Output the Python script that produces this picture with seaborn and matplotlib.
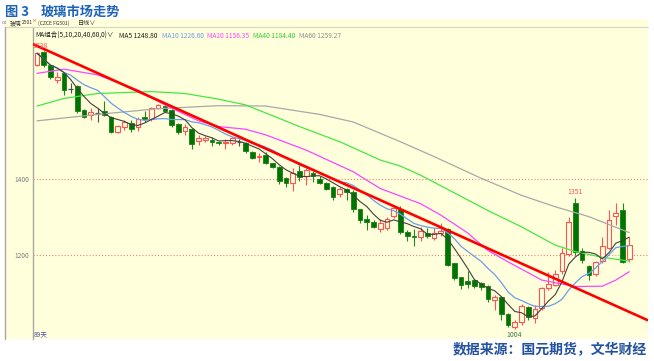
import numpy as np
import pandas as pd
import matplotlib
matplotlib.use("Agg")
import matplotlib.pyplot as plt
import seaborn as sns
from matplotlib.patches import Rectangle
from matplotlib.lines import Line2D

# ---------------- data ----------------
opens = [1700,1735,1700,1660,1678,1638,1645,1582,1568,1574,
         1579,1562,1524,1536,1547,1538,1562,1557,1586,1592,
         1582,1545,1527,1531,1501,1503,1503,1498,1494,1494,
         1497,1494,1472,1457,1463,1441,1431,1402,1390,1421,
         1408,1417,1399,1390,1380,1360,1374,1367,1320,1295,
         1288,1268,1270,1303,1320,1261,1250,1247,1259,1244,
         1257,1268,1178,1141,1131,1134,1127,1118,1082,1089,
         1045,1011,1024,1062,1033,1060,1112,1121,1159,1203,
         1338,1211,1171,1150,1185,1218,1303,1318,1189]
closes = [1731,1700,1668,1669,1634,1638,1580,1564,1577,1574,
          1568,1525,1539,1551,1531,1559,1557,1586,1594,1580,
          1542,1525,1538,1492,1507,1508,1497,1496,1497,1507,
          1497,1474,1456,1461,1443,1432,1395,1390,1417,1404,
          1424,1408,1390,1374,1353,1373,1366,1320,1292,1287,
          1273,1285,1294,1323,1261,1250,1247,1264,1251,1259,
          1264,1174,1140,1121,1123,1118,1117,1083,1089,1045,
          1016,1024,1066,1036,1057,1112,1124,1150,1204,1288,
          1209,1187,1147,1182,1224,1292,1310,1182,1226]
highs = [1735,1738,1703,1682,1682,1653,1648,1584,1587,1587,
         1605,1565,1542,1556,1556,1563,1580,1590,1597,1598,
         1585,1547,1545,1534,1516,1512,1511,1500,1505,1510,
         1506,1497,1475,1468,1470,1443,1433,1404,1428,1437,
         1428,1420,1408,1393,1382,1380,1376,1370,1322,1305,
         1292,1294,1300,1330,1328,1265,1268,1275,1272,1272,
         1285,1272,1180,1143,1159,1137,1130,1120,1095,1092,
         1048,1030,1070,1066,1068,1115,1156,1160,1218,1301,
         1351,1218,1175,1185,1248,1318,1336,1336,1248]
lows = [1697,1695,1662,1653,1621,1626,1575,1561,1555,1550,
        1566,1522,1520,1530,1524,1526,1550,1552,1583,1576,
        1538,1518,1515,1478,1489,1498,1488,1490,1478,1490,
        1488,1468,1453,1445,1440,1429,1388,1378,1369,1394,
        1385,1392,1388,1372,1345,1352,1345,1312,1285,1266,
        1270,1261,1265,1298,1255,1236,1225,1238,1245,1240,
        1250,1172,1135,1110,1112,1112,1108,1077,1055,1030,
        1010,1004,1015,1030,1020,1055,1108,1118,1150,1198,
        1200,1180,1134,1145,1180,1215,1279,1180,1182]

# moving-average lines (candle index, value)
ma20_idx = [0, 4, 9, 15, 19, 24, 27, 31, 34, 40, 47, 51, 57, 60, 64, 67, 70, 75, 80, 84, 86, 88]
ma20_val = [1678, 1689, 1674, 1634, 1595, 1553, 1538, 1531, 1516, 1476, 1419, 1375, 1335, 1305,
            1258, 1212, 1182, 1134, 1117, 1118, 1134, 1156]
ma40_idx = [0, 4, 9, 17, 22, 27, 31, 39, 45, 51, 54, 57, 64, 67, 72, 77, 80, 84, 88]
ma40_val = [1592, 1612, 1625, 1630, 1625, 1610, 1595, 1538, 1498, 1450, 1434, 1410, 1345, 1317,
            1274, 1226, 1209, 1194, 1184]
ma60_idx = [0, 9, 18, 27, 34, 42, 47, 54, 59, 66, 72, 77, 82, 88]
ma60_val = [1553, 1570, 1585, 1593, 1592, 1570, 1550, 1498, 1459, 1402, 1357, 1327, 1301, 1259]

# hand-drawn trend line (index, value)
trend_idx = [-0.6, 90.8]
trend_val = [1755, 1028]

y_ticks = [1200, 1400]
legend_labels = ["MA5 1248.80", "MA10 1226.60", "MA20 1156.35", "MA40 1184.40", "MA60 1259.27"]

title_num = "图 3"
title_txt = "玻璃市场走势"
source_txt = "数据来源：国元期货，文华财经"
header_name = "玻璃"
header_contract = "2501"
header_code = "(CZCE FG501)"
header_period = "日线∨"
ma_group = "MA组合(5,10,20,40,60,0)∨"
days_txt = "89天"

# ---------------- style ----------------
sns.set_theme(style="white")
plt.rcParams["font.family"] = ["Noto Sans CJK SC", "DejaVu Sans"]
FAM = ["Noto Sans CJK SC", "DejaVu Sans"]

BG = "#FFFFDC"
RED = "#FF5454"
GREEN = "#007400"
GWICK = "#1E8A1E"
DOJI = "#505050"
C_MA5 = "#404040"
C_MA10 = "#6D9CE8"
C_MA20 = "#FF44FF"
C_MA40 = "#44E844"
C_MA60 = "#A8A8A8"

W, H = 654, 361
fig = plt.figure(figsize=(W / 100, H / 100), dpi=100)
fig.patch.set_facecolor("white")

def fx(px):
    return px / W

def fy(py):
    return 1 - py / H

# chart window background and frame lines
fig.add_artist(Rectangle((fx(5), fy(339)), fx(648) - fx(5), fy(19) - fy(339),
                         transform=fig.transFigure, facecolor=BG, edgecolor="none", zorder=0))
fig.add_artist(Line2D([fx(5), fx(648)], [fy(27), fy(27)], transform=fig.transFigure,
                      color="#D8D8C0", lw=0.8, zorder=1))
fig.add_artist(Line2D([fx(5.5), fx(5.5)], [fy(27), fy(339)], transform=fig.transFigure,
                      color="#A8A8A0", lw=1.0, zorder=1))

ax = fig.add_axes([fx(33), fy(339), fx(648) - fx(33), fy(27) - fy(339)])
ax.set_facecolor(BG)

n = len(closes)
idx = np.arange(n)
o = np.array(opens, float)
c = np.array(closes, float)
h = np.array(highs, float)
l = np.array(lows, float)
lo_b = np.minimum(o, c)
hi_b = np.maximum(o, c)
up = c > o
dn = c < o
fl = c == o
BW = 0.7

# wicks
for m, col in [(up, RED), (dn, GWICK), (fl, DOJI)]:
    ax.vlines(idx[m], l[m], lo_b[m], color=col, lw=0.8, zorder=2)
    ax.vlines(idx[m], hi_b[m], h[m], color=col, lw=0.8, zorder=2)
# bodies
ax.bar(idx[up], hi_b[up] - lo_b[up], bottom=lo_b[up], width=BW,
       facecolor=BG, edgecolor=RED, linewidth=0.8, zorder=2)
ax.bar(idx[dn], hi_b[dn] - lo_b[dn], bottom=lo_b[dn], width=BW,
       facecolor=GREEN, edgecolor=GREEN, linewidth=0.5, zorder=2)
ax.hlines(c[fl], idx[fl] - BW / 2, idx[fl] + BW / 2, color=DOJI, lw=0.9, zorder=2)

# moving averages
cs = pd.Series(closes, dtype=float)
ma5 = cs.rolling(5, min_periods=1).mean()
ma10 = cs.rolling(10, min_periods=1).mean()
sns.lineplot(x=ma60_idx, y=ma60_val, ax=ax, color=C_MA60, lw=0.9, zorder=3, estimator=None, sort=False)
sns.lineplot(x=ma40_idx, y=ma40_val, ax=ax, color=C_MA40, lw=0.9, zorder=3, estimator=None, sort=False)
sns.lineplot(x=ma20_idx, y=ma20_val, ax=ax, color=C_MA20, lw=0.9, zorder=3, estimator=None, sort=False)
sns.lineplot(x=idx, y=ma10.values, ax=ax, color=C_MA10, lw=0.9, zorder=3, estimator=None, sort=False)
sns.lineplot(x=idx, y=ma5.values, ax=ax, color=C_MA5, lw=0.8, zorder=3, estimator=None, sort=False)

# trend line
ax.plot(trend_idx, trend_val, color="#FF0000", lw=1.9, zorder=5, solid_capstyle="butt")

# horizontal dotted reference lines
for v in y_ticks:
    ax.axhline(v, color="#F08080", lw=0.8, ls=(0, (1, 1.8)), zorder=1)

ax.set_xlim(-4 / 6.73, 611 / 6.73)
ax.set_ylim(979, 1800)
ax.set_yticks(y_ticks)
ax.set_yticklabels([str(v) for v in y_ticks], family=FAM)
ax.set_xticks([])
ax.tick_params(axis="y", length=0, pad=2.5, labelsize=4.8, labelcolor="#808080")
for s in ["top", "right", "bottom"]:
    ax.spines[s].set_visible(False)
ax.spines["left"].set_color("#A8A8A0")
ax.spines["left"].set_linewidth(1.0)
ax.set_xlabel("")
ax.set_ylabel("")

# extreme labels
imax = int(np.argmax(h))
imin = int(np.argmin(l))
ax.annotate(f"{int(h[imax])}", xy=(imax, h[imax]), xytext=(-2.5, 0.3), textcoords="offset points",
            ha="center", va="bottom", fontsize=5.0, color=RED, family=FAM, zorder=6)
iloc = 80  # local high near the right end
ax.annotate(f"{int(h[iloc])}", xy=(iloc, h[iloc]), xytext=(-0.5, 1.0), textcoords="offset points",
            ha="center", va="bottom", fontsize=5.0, color=RED, family=FAM, zorder=6)
ax.annotate(f"{int(l[imin])}", xy=(imin, l[imin]), xytext=(-0.5, -0.8), textcoords="offset points",
            ha="center", va="top", fontsize=5.0, color="#3C7A50", family=FAM, zorder=6)

# legend row
yrow = fy(36)
fig.text(fx(35), yrow, ma_group, fontsize=4.7, color="#202020", va="center", family=FAM)
leg_x = [119, 161.7, 207, 253, 299.3]
leg_c = ["#202020", C_MA10, C_MA20, "#33CC33", "#909090"]
for xx, t, col in zip(leg_x, legend_labels, leg_c):
    fig.text(fx(xx), yrow, t, fontsize=4.8, color=col, va="center", family=FAM)

# header row
fig.text(fx(1.5), fy(23), "oo", fontsize=3.2, color="#707070", va="center", family=FAM)
fig.text(fx(9.5), fy(23), header_name, fontsize=4.2, color="#303030", va="center", family=FAM)
fig.text(fx(21.5), fy(23), header_contract, fontsize=3.6, color="#303030", va="center", family=FAM)
fig.text(fx(33.0), fy(21.3), "M", fontsize=2.6, color=RED, va="center", family=FAM)
fig.text(fx(37.5), fy(23), header_code, fontsize=3.6, color="#303030", va="center", family=FAM)
fig.text(fx(78), fy(23), header_period, fontsize=4.4, color="#303030", va="center", family=FAM)

# bottom-left day count
fig.text(fx(33.5), fy(334), days_txt, fontsize=4.8, color="#5050A8", va="center", family=FAM)

# title and source
fig.text(fx(5), fy(12), title_num, fontsize=9.5, weight="bold", color="#1D63B8", va="center",
         family=FAM)
fig.text(fx(41), fy(12), title_txt, fontsize=9.5, weight="bold", color="#1D63B8", va="center",
         family=FAM)
fig.text(fx(647), fy(350), source_txt, fontsize=10, weight="bold", color="#22519E",
         va="center", ha="right", family=FAM)

fig.savefig("out.png", dpi=100, facecolor="white")
